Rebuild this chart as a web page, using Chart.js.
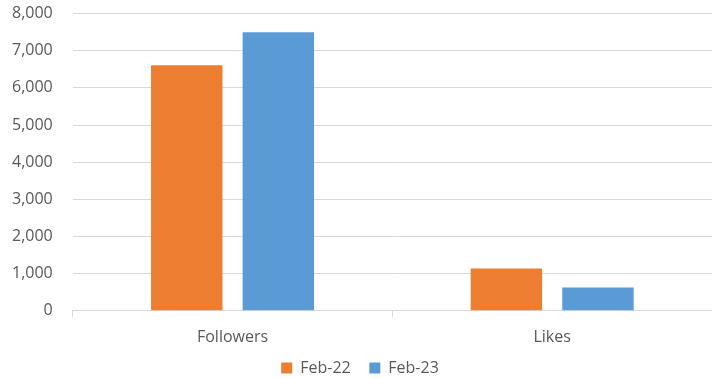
<!DOCTYPE html>
<html>
<head>
<meta charset="utf-8">
<script src="https://cdn.jsdelivr.net/npm/chart.js@4"></script>
<style>
  html, body { margin: 0; padding: 0; background: #fff; }
  #wrap { width: 712px; height: 378px; }
</style>
</head>
<body>
<div id="wrap"><canvas id="myChart" width="712" height="378"></canvas></div>
<script>
// data
var categories = ['Followers', 'Likes'];
var feb22 = [6610, 1140];
var feb23 = [7500, 630];
var seriesNames = ['Feb-22', 'Feb-23'];

let ctx = document.getElementById('myChart').getContext('2d');
Chart.defaults.font.family = "'Open Sans', 'Liberation Sans', sans-serif";
Chart.defaults.color = '#595959';

let demoChart = new Chart(ctx, {
  type: 'bar',
  data: {
    labels: categories,
    datasets: [
      {
        label: seriesNames[0],
        data: feb22,
        backgroundColor: '#ED7D31',
        borderWidth: 0,
        categoryPercentage: 0.573,
        barPercentage: 0.78
      },
      {
        label: seriesNames[1],
        data: feb23,
        backgroundColor: '#5B9BD5',
        borderWidth: 0,
        categoryPercentage: 0.573,
        barPercentage: 0.78
      }
    ]
  },
  options: {
    responsive: false,
    animation: false,
    layout: { padding: { top: 0, right: 0, left: 8, bottom: -8 } },
    scales: {
      y: {
        min: 0,
        max: 8000,
        ticks: {
          stepSize: 1000,
          padding: 4,
          font: { size: 16 },
          callback: (value) => value.toLocaleString('en-US')
        },
        // the gap between labels and plot comes from invisible tick marks
        grid: { color: '#d9d9d9', lineWidth: 1, drawTicks: true, tickLength: 16, tickColor: 'rgba(0,0,0,0)' },
        border: { display: false }
      },
      x: {
        ticks: { font: { size: 16 }, padding: 11 },
        grid: { display: true, offset: true, drawOnChartArea: false, tickLength: 6, color: '#d9d9d9' },
        border: { display: true, color: '#d9d9d9' }
      }
    },
    plugins: {
      legend: {
        position: 'bottom',
        labels: {
          boxWidth: 11, boxHeight: 11, font: { size: 16 }, padding: 2,
          // small padding keeps the legend low, so widen the item gap with spaces
          generateLabels: function (chart) {
            var items = Chart.defaults.plugins.legend.labels.generateLabels(chart);
            for (var i = 0; i < items.length - 1; i++) {
              items[i].text = items[i].text + '    ';
            }
            return items;
          }
        }
      },
      tooltip: { enabled: false }
    }
  }
});
</script>
</body>
</html>
